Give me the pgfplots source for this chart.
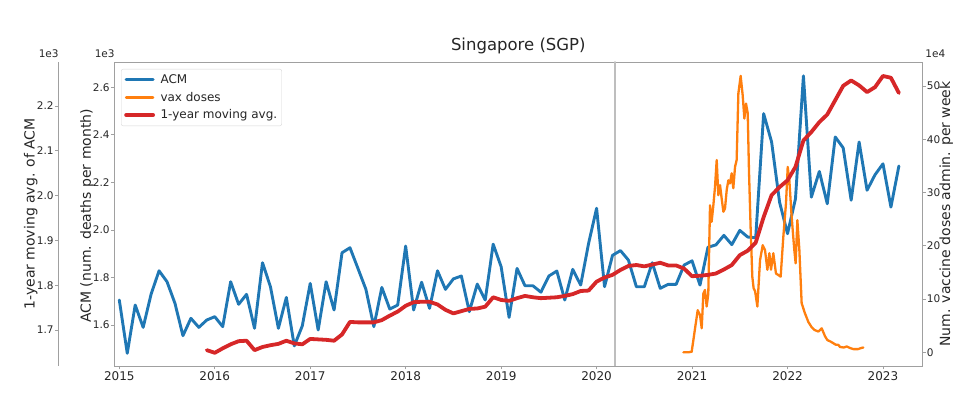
\documentclass[border=0pt]{standalone}
\usepackage{fontspec}
\setmainfont{DejaVu Sans}
\usepackage{pgfplots}
\usepackage{pgfplotstable}
\pgfplotsset{compat=1.18}
\definecolor{tblue}{HTML}{1F77B4}
\definecolor{torange}{HTML}{FF7F0E}
\definecolor{tred}{HTML}{D62728}
\definecolor{spine}{HTML}{A0A0A0}
\definecolor{txt}{HTML}{262626}

% ACM, monthly, k = months since Jan 2015
\pgfplotstableread{
k acm
0 1705
1 1481
2 1684
3 1590
4 1730
5 1828
6 1782
7 1691
8 1555
9 1628
10 1590
11 1621
12 1635
13 1593
14 1782
15 1687
16 1729
17 1586
18 1862
19 1761
20 1586
21 1716
22 1512
23 1596
24 1775
25 1579
26 1782
27 1663
28 1904
29 1925
30 1838
31 1750
32 1593
33 1758
34 1667
35 1684
36 1932
37 1663
38 1780
39 1670
40 1828
41 1750
42 1794
43 1806
44 1656
45 1772
46 1705
47 1940
48 1845
49 1632
50 1838
51 1765
52 1765
53 1738
54 1806
55 1827
56 1705
57 1834
58 1768
59 1944
60 2091
61 1761
62 1893
63 1913
64 1873
65 1761
66 1761
67 1862
68 1754
69 1771
70 1771
71 1852
72 1870
73 1768
74 1927
75 1937
76 1977
77 1938
78 1998
79 1970
80 1967
81 2489
82 2370
83 2117
84 1984
85 2131
86 2648
87 2138
88 2246
89 2110
90 2391
91 2345
92 2125
93 2370
94 2167
95 2232
96 2278
97 2096
98 2269
}\acmtable

% 1-year moving average
\pgfplotstableread{
k avg
11 1655
12 1649
13 1659
14 1668
15 1675
16 1676
17 1655
18 1662
19 1666
20 1669
21 1676
22 1670
23 1668
24 1680
25 1679
26 1678
27 1676
28 1690
29 1718
30 1717
31 1717
32 1717
33 1722
34 1732
35 1741
36 1754
37 1762
38 1763
39 1763
40 1757
41 1745
42 1737
43 1742
44 1747
45 1748
46 1752
47 1773
48 1767
49 1765
50 1771
51 1776
52 1773
53 1771
54 1772
55 1773
56 1776
57 1780
58 1787
59 1788
60 1808
61 1817
62 1823
63 1834
64 1843
65 1845
66 1842
67 1846
68 1850
69 1844
70 1844
71 1837
72 1820
73 1821
74 1823
75 1826
76 1835
77 1845
78 1867
79 1877
80 1895
81 1952
82 2001
83 2019
84 2034
85 2064
86 2123
87 2142
88 2164
89 2181
90 2213
91 2245
92 2257
93 2246
94 2231
95 2242
96 2267
97 2263
98 2229
}\avgtable

% vaccine doses per week (units of 1e4)
\pgfplotstableread{
t vax
2020.909 0
2020.960 0
2020.996 0.1
2021.024 3.6
2021.059 7.9
2021.083 7.0
2021.101 4.5
2021.118 11.0
2021.135 11.7
2021.153 8.6
2021.170 11.0
2021.188 27.6
2021.205 24.5
2021.223 27.6
2021.240 31.0
2021.258 36.1
2021.275 29.5
2021.293 31.4
2021.310 28.9
2021.328 26.4
2021.345 27.0
2021.363 30.5
2021.380 32.3
2021.397 31.7
2021.415 33.6
2021.432 30.8
2021.450 34.8
2021.467 36.1
2021.485 48.6
2021.509 51.9
2021.530 48.3
2021.548 43.9
2021.565 46.7
2021.583 44.9
2021.596 34.2
2021.614 23.0
2021.631 14.2
2021.645 12.0
2021.660 11.5
2021.684 8.6
2021.712 17.3
2021.740 20.1
2021.764 19.2
2021.789 15.5
2021.810 18.6
2021.827 15.5
2021.851 18.6
2021.879 14.8
2021.904 14.5
2021.928 14.2
2021.956 21.7
2021.984 28.0
2022.002 34.8
2022.019 32.3
2022.043 25.5
2022.071 19.2
2022.085 16.7
2022.103 24.8
2022.124 19.2
2022.148 9.2
2022.183 7.3
2022.218 5.7
2022.253 4.7
2022.281 4.2
2022.323 3.9
2022.358 4.5
2022.393 3.0
2022.417 2.3
2022.452 2.0
2022.480 1.7
2022.508 1.4
2022.532 1.4
2022.550 1.0
2022.590 0.9
2022.620 1.1
2022.655 0.8
2022.690 0.6
2022.740 0.6
2022.770 0.8
2022.794 0.9
}\vaxtable

\begin{document}
\begin{tikzpicture}
\useasboundingbox (0,0) rectangle (969pt,403pt);
\pgfplotsset{
  common/.style={
    scale only axis, anchor=south west,
    height=304pt, xmax=2023.412,
    axis line style={spine, line width=0.8pt},
    tick style={spine, line width=0.8pt},
    tick align=outside, major tick length=3.5pt,
    /pgf/number format/assume math mode=true,
    yticklabel style={text=txt, font=\fontsize{10.5}{12}\selectfont},
    xticklabel style={text=txt, font=\fontsize{12}{14}\selectfont},
    label style={text=txt, font=\fontsize{14}{16}\selectfont},
    every axis plot/.append style={line join=round, line cap=round},
  }
}
% main axis: ACM
\begin{axis}[common, at={(114.3pt,37pt)}, width=808pt,
  xmin=2014.9476, ymin=1427.5, ymax=2706.4,
  xtick={2015,2016,2017,2018,2019,2020,2021,2022,2023},
  xticklabels={2015,2016,2017,2018,2019,2020,2021,2022,2023},
  xtick pos=bottom, ytick pos=left,
  ytick={1600,1800,2000,2200,2400,2600},
  yticklabels={1.6,1.8,2.0,2.2,2.4,2.6},
  yticklabel style={anchor=east, inner sep=0pt, xshift=-1pt},
  xticklabel style={anchor=north, inner sep=0pt, yshift=-1.5pt},
  ylabel={ACM (num. deaths per month)},
  ylabel style={at={(axis description cs:-0.0338,0.494)}, anchor=center, rotate=0},
  title={Singapore (SGP)},
  title style={at={(axis description cs:0.5,1)}, anchor=south, inner sep=0pt, yshift=1.5pt, text=txt, font=\fontsize{16.5}{18}\selectfont},
  legend style={at={(axis description cs:0.0083,0.977)}, anchor=north west,
    draw={rgb,255:red,215;green,215;blue,215}, rounded corners=2pt, fill=white,
    font=\fontsize{12}{14}\selectfont, text=txt, inner xsep=3pt, inner ysep=4pt,
    row sep=4pt, nodes={inner sep=1.5pt}},
  legend cell align=left,
  legend image code/.code={\draw[#1] (0pt,0pt) -- (27pt,0pt); \path (31pt,0pt);},
]
\addplot[forget plot, color={rgb,255:red,190;green,190;blue,190}, line width=1.6pt] coordinates {(2020.19,1427.5) (2020.19,2706.4)};
\addplot[tblue, line width=2.9pt] table[x expr=2015+\thisrow{k}/12, y=acm] {\acmtable};
\addlegendentry{ACM}
\addlegendimage{torange, line width=2.3pt}
\addlegendentry{vax doses}
\addlegendimage{tred, line width=3.8pt}
\addlegendentry{1-year moving avg.}
\end{axis}
% right axis: vaccine doses
\begin{axis}[common, at={(114.3pt,37pt)}, width=808pt,
  xmin=2014.9476, ymin=-2.572, ymax=54.506,
  hide x axis, axis y line*=right,
  ytick={0,10,20,30,40,50},
  yticklabels={0,10,20,30,40,50},
  yticklabel style={anchor=west, inner sep=0pt, xshift=1pt},
  ylabel={Num. vaccine doses admin. per week},
  ylabel style={at={(axis description cs:1.0297,0.5)}, anchor=center, rotate=0},
]
\addplot[torange, line width=2.3pt] table[x=t, y=vax] {\vaxtable};
\end{axis}
% outer left axis: moving average
\begin{axis}[common, at={(58.3pt,37pt)}, width=864pt,
  xmin=2014.361, ymin=1619.6, ymax=2298.2,
  hide x axis, axis y line*=left,
  ytick={1700,1800,1900,2000,2100,2200},
  yticklabels={1.7,1.8,1.9,2.0,2.1,2.2},
  yticklabel style={anchor=east, inner sep=0pt, xshift=-1pt},
  ylabel={1-year moving avg. of ACM},
  ylabel style={at={(axis description cs:-0.0318,0.5)}, anchor=center, rotate=0},
]
\addplot[tred, line width=3.8pt] table[x expr=2015+\thisrow{k}/12, y=avg] {\avgtable};
\end{axis}
\node[text=txt, font=\fontsize{10.5}{12}\selectfont] at (48.7pt,349.3pt) {1e3};
\node[text=txt, font=\fontsize{10.5}{12}\selectfont] at (104.7pt,349.3pt) {1e3};
\node[text=txt, font=\fontsize{10.5}{12}\selectfont] at (935.3pt,349.3pt) {1e4};
\end{tikzpicture}
\end{document}
